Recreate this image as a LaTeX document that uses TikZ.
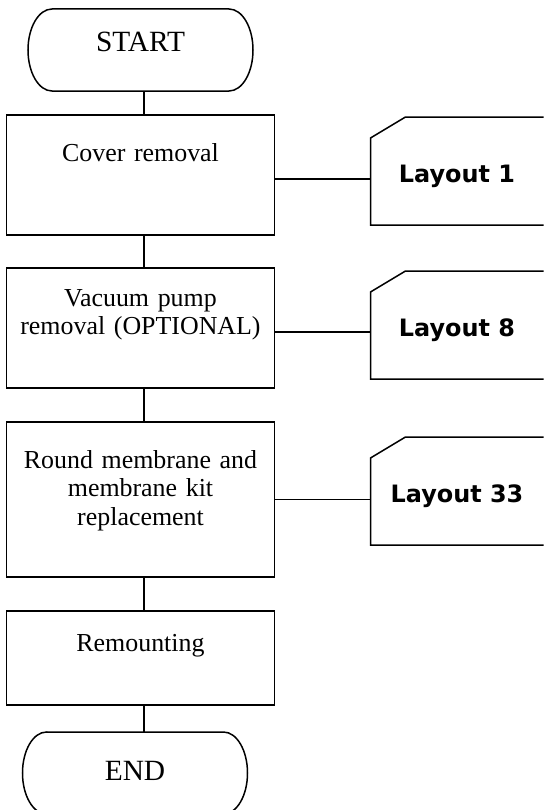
\documentclass[tikz,border=0pt]{standalone}
\usepackage{fontspec}
\setmainfont{Liberation Serif}
\newfontfamily\layfont{DejaVu Sans}
\usetikzlibrary{positioning}

% outlines of the two odd shapes
\newcommand\termedge[1]{\draw ([xshift=24bp]#1.north west) -- ([xshift=-24bp]#1.north east) arc[start angle=90,end angle=-90,x radius=24bp,y radius=41bp] -- ([xshift=24bp]#1.south west) arc[start angle=270,end angle=90,x radius=24bp,y radius=41bp] -- cycle;}
\newcommand\cardedge[1]{\draw (#1.south east) -- (#1.south west) -- ([yshift=-21bp]#1.north west) -- ([xshift=35bp]#1.north west) -- (#1.north east);}

\begin{document}
\begin{tikzpicture}[x=1bp,y=1bp,line width=1.5bp,outer sep=0pt,
  stepbox/.style={draw,minimum width=268bp,text width=256bp,inner xsep=6bp,inner ysep=0pt,align=center,font=\fontsize{26}{29}\selectfont},
  terminal/.style={minimum width=225bp,inner ysep=0pt,font=\fontsize{29.5}{34}\selectfont},
  card/.style={minimum width=173bp,inner sep=0pt,text height=65bp,text depth=43bp,font=\layfont\bfseries\fontsize{24}{28}\selectfont}]
\useasboundingbox (0,0) rectangle (544,-810);
\coordinate (spine) at (144,0);

\node[terminal,text height=43bp,text depth=39bp] (start) at (140.5,-50) {START};
\node[stepbox,text height=46bp,text depth=74bp,below=24bp of start] (box1) {Cover removal};
\node[stepbox,text height=38bp,text depth=82bp,below=33bp of box1] (box2) {Vacuum pump\\removal (OPTIONAL)};
\node[stepbox,text height=46bp,text depth=109bp,below=34bp of box2] (box3) {Round membrane and\\membrane kit\\replacement};
\node[stepbox,text height=40bp,text depth=54bp,below=34bp of box3] (box4) {Remounting};
\node[terminal,text height=48bp,text depth=34bp,below=27bp of box4,xshift=-5.5bp] (end) {END};
\termedge{start} \termedge{end}

\node[card,right=96bp of box1,yshift=4bp] (lay1) {Layout 1};
\node[card,right=96bp of box2,yshift=3bp] (lay8) {Layout 8};
\node[card,right=96bp of box3,yshift=8.5bp] (lay33) {Layout 33};
\cardedge{lay1} \cardedge{lay8} \cardedge{lay33}

\draw (start.south -| spine) -- (box1.north -| spine);
\draw (box1.south -| spine) -- (box2.north -| spine);
\draw (box2.south -| spine) -- (box3.north -| spine);
\draw (box3.south -| spine) -- (box4.north -| spine);
\draw (box4.south -| spine) -- (end.north -| spine);
\draw ([yshift=-4bp]box1.east) -- ([yshift=-4bp]box1.east -| lay1.west);
\draw ([yshift=-4bp]box2.east) -- ([yshift=-4bp]box2.east -| lay8.west);
\draw (box3.east) -- (box3.east -| lay33.west);
\end{tikzpicture}
\end{document}
